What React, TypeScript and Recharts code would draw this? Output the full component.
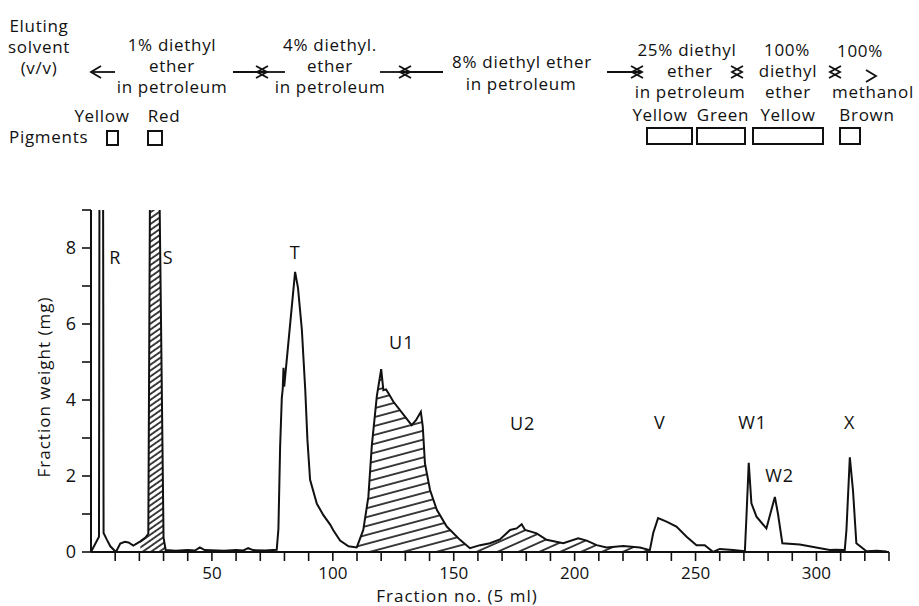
import { ComposedChart, Line, Area, XAxis, YAxis, ReferenceDot } from "recharts";

// elution profile (fraction no., mg)
const fraction = [
  0, 3.3, 3.5, 5.0, 5.2, 6.6, 8, 10.3, 12.1, 14, 15.5, 17.5, 20.4, 22.5, 23.7,
  24.4, 28.3, 30.0, 30.9, 35, 40, 43, 45, 47, 55, 60, 63, 65, 67, 72, 76.8,
  77.5, 78.2, 78.9, 79.3, 79.6, 79.9, 84.4, 85.6, 87.2, 88.6, 89.5, 90.6, 93.4,
  96.1, 98.9, 100.2, 103, 106.5, 109.9, 112.6, 114.7, 116.1, 118.2, 120, 120.9,
  122, 123, 125, 132.6, 134.4, 136.4, 137.2, 138.1, 140.2, 143, 147.1, 152.6,
  156.7, 160.9, 165, 169.1, 173.3, 176, 178.1, 179.5, 184.3, 188.4, 195.3,
  201.5, 205, 209.1, 213.2, 220.1, 227, 231.1, 232.5, 234.5, 238, 242.1, 246.3,
  250.4, 253.8, 257.3, 260, 265.5, 270.4, 271.1, 272, 273.1, 275.2, 279.3,
  282.8, 284.1, 285.9, 293.1, 305.5, 308, 311.7, 312.4, 313.8, 315.1, 316.5,
  320.7, 325, 329,
];
const weight = [
  0, 0.4, 9.6, 9.6, 0.5, 0.32, 0.15, 0, 0.22, 0.27, 0.25, 0.17, 0.28, 0.38, 0.48,
  9.6, 9.6, 0.38, 0.05, 0.03, 0.05, 0.04, 0.12, 0.05, 0.03, 0.05, 0.04, 0.1, 0.05,
  0.04, 0.06, 0.6, 2.75, 4.05, 4.3, 4.85, 4.35, 7.37, 6.95, 5.85, 4.27, 2.95,
  1.9, 1.27, 0.97, 0.72, 0.57, 0.3, 0.15, 0.12, 0.58, 1.45, 2.78, 4.1, 4.81,
  4.26, 4.28, 4.18, 3.96, 3.34, 3.47, 3.69, 3.3, 2.33, 1.63, 1.11, 0.67, 0.32,
  0.1, 0.18, 0.23, 0.33, 0.58, 0.62, 0.73, 0.58, 0.49, 0.32, 0.23, 0.36, 0.3,
  0.18, 0.12, 0.16, 0.12, 0.05, 0.5, 0.89, 0.8, 0.67, 0.4, 0.18, 0.18, 0, 0.08,
  0.05, 0.02, 1.0, 2.35, 1.28, 0.93, 0.62, 1.45, 1.0, 0.23, 0.2, 0.05, 0.06,
  0.05, 0.58, 2.49, 1.63, 0.23, 0.02, 0.03, 0.01,
];

// hatched fractions (from, to)
const hatchS = [20.4, 30.9];
const hatchU1 = [109.9, 156.7];
const hatchU2 = [156.7, 231.1];

const xTicks = [10, 20, 30, 40, 50, 60, 70, 80, 90, 100, 110, 120, 130, 140, 150, 160, 170, 180, 190, 200, 210, 220, 230, 240, 250, 260, 270, 280, 290, 300, 310, 320, 330];
const yTicks = [0, 1, 2, 3, 4, 5, 6, 7, 8, 9];

const peakNames = ["R", "S", "T", "U1", "U2", "V", "W1", "W2", "X"];
const peakFraction = [10, 31.9, 84.4, 128.5, 178.5, 235.2, 273.6, 284.8, 313.8];
const peakLabelAt = [7.74, 7.74, 7.87, 5.5, 3.39, 3.4, 3.4, 2.0, 3.4];

const solventTitle = ["Eluting", "solvent", "(v/v)"];
const solvents = [
  ["1% diethyl", "ether", "in petroleum"],
  ["4% diethyl.", "ether", "in petroleum"],
  ["8% diethyl ether", "in petroleum"],
  ["25% diethyl", "ether", "in petroleum"],
  ["100%", "diethyl", "ether"],
  ["100%", "methanol"],
];
const pigmentsLeft = ["Yellow", "Red"];
const pigmentsRight = ["Yellow", "Green", "Yellow", "Brown"];

const FONT = "'Open Sans', 'DejaVu Sans', sans-serif";
const INK = "#111";

const inside = (x: number, r: number[]) => x >= r[0] && x <= r[1];

const rows = fraction.map((x, i) => ({
  x,
  w: weight[i],
  s: inside(x, hatchS) ? weight[i] : null,
  u1: inside(x, hatchU1) ? weight[i] : null,
  u2: inside(x, hatchU2) ? weight[i] : null,
}));

// header layout: [x centre, baseline] per line
const solventPos = [
  [[172, 51], [172, 72], [172, 93]],
  [[330, 51], [330, 72], [330, 93]],
  [[522, 68], [521, 90]],
  [[687, 56], [690, 77], [690, 98]],
  [[787, 56], [788, 77], [788, 98]],
  [[860, 57], [873, 98]],
];
const leftPigPos = [102, 164];
const rightPigPos = [660, 723, 788, 867];
const leftBoxes = [[107, 131, 11, 14], [148, 131, 14, 14]];
const rightBoxes = [[647, 128, 45, 16], [697, 128, 48, 16], [753, 128, 70, 16], [840, 128, 20, 16]];

// two opposed arrows meeting at m; a / b = shaft ends (null = head only)
function Cross({ a, m, b, y }: { a: number | null; m: number; b: number | null; y: number }) {
  const h = 11;
  const s = 6;
  return (
    <g stroke={INK} strokeWidth={1.8} fill="none">
      {a !== null && <line x1={a} y1={y} x2={m + 5} y2={y} />}
      {b !== null && <line x1={m - 5} y1={y} x2={b} y2={y} />}
      <polyline points={`${m + 5 - h},${y - s} ${m + 5},${y} ${m + 5 - h},${y + s}`} />
      <polyline points={`${m - 5 + h},${y - s} ${m - 5},${y} ${m - 5 + h},${y + s}`} />
    </g>
  );
}

function Header() {
  return (
    <svg
      width={919}
      height={606}
      style={{ position: "absolute", left: 0, top: 0, pointerEvents: "none" }}
      fontFamily={FONT}
      fill={INK}
    >
      <g fontSize={17} letterSpacing={0.7} textAnchor="middle">
        {solventTitle.map((t, i) => (
          <text key={t} x={39} y={32 + i * 21}>{t}</text>
        ))}
        {solvents.map((lines, i) =>
          lines.map((t, j) => (
            <text key={`${i}-${j}`} x={solventPos[i][j][0]} y={solventPos[i][j][1]}>{t}</text>
          ))
        )}
        {pigmentsLeft.map((t, i) => (
          <text key={`l${i}`} x={leftPigPos[i]} y={122}>{t}</text>
        ))}
        {pigmentsRight.map((t, i) => (
          <text key={`r${i}`} x={rightPigPos[i]} y={121}>{t}</text>
        ))}
        <text x={9} y={143} textAnchor="start">Pigments</text>
      </g>
      <g stroke={INK} strokeWidth={2} fill="none">
        {[...leftBoxes, ...rightBoxes].map((b, i) => (
          <rect key={i} x={b[0]} y={b[1]} width={b[2]} height={b[3]} />
        ))}
      </g>
      {/* arrows between the solvent bands */}
      <g stroke={INK} strokeWidth={1.8} fill="none">
        <line x1={91} y1={72} x2={115} y2={72} />
        <polyline points="101,66 91,72 101,78" />
        <polyline points="866,70 876,76 866,82" />
      </g>
      <Cross a={233} m={262} b={285} y={72} />
      <Cross a={380} m={405} b={443} y={72} />
      <Cross a={607} m={637} b={null} y={72} />
      <Cross a={null} m={737} b={null} y={72} />
      <Cross a={null} m={835} b={null} y={72} />
      <text
        x={43}
        y={387}
        transform="rotate(-90 43 387)"
        textAnchor="middle"
        dominantBaseline="central"
        fontSize={17}
        letterSpacing={1}
      >
        Fraction weight (mg)
      </text>
      <text x={457} y={602} textAnchor="middle" fontSize={17} letterSpacing={1}>
        Fraction no. (5 ml)
      </text>
    </svg>
  );
}

export default function App() {
  return (
    <div style={{ position: "absolute", left: 0, top: 0, width: 919, height: 606, background: "#fff" }}>
      <ComposedChart
        width={919}
        height={606}
        data={rows}
        margin={{ top: 210, right: 30, bottom: 0, left: 0 }}
      >
        <defs>
          <pattern id="hatchS" width="10" height="4.8" patternUnits="userSpaceOnUse" patternTransform="rotate(-35)">
            <line x1="0" y1="1" x2="10" y2="1" stroke={INK} strokeWidth="1.6" />
          </pattern>
          <pattern id="hatchU1" width="10" height="8.6" patternUnits="userSpaceOnUse" patternTransform="rotate(-15)">
            <line x1="0" y1="1" x2="10" y2="1" stroke={INK} strokeWidth="1.6" />
          </pattern>
          <pattern id="hatchU2" width="10" height="8.5" patternUnits="userSpaceOnUse" patternTransform="rotate(-24)">
            <line x1="0" y1="1" x2="10" y2="1" stroke={INK} strokeWidth="1.6" />
          </pattern>
        </defs>
        <XAxis
          type="number"
          dataKey="x"
          domain={[0, 330]}
          ticks={xTicks}
          interval={0}
          allowDataOverflow
          height={54}
          tickSize={9}
          tickMargin={6}
          tickFormatter={(v: number) => (v % 50 === 0 ? String(v) : "")}
          axisLine={{ stroke: INK, strokeWidth: 2 }}
          tickLine={{ stroke: INK, strokeWidth: 1.6 }}
          tick={{ fill: INK, fontSize: 17, fontFamily: FONT }}
        />
        <YAxis
          type="number"
          domain={[0, 9]}
          ticks={yTicks}
          interval={0}
          allowDataOverflow
          width={91}
          tickSize={9}
          tickMargin={6}
          tickFormatter={(v: number) => (v % 2 === 0 ? String(v) : "")}
          axisLine={{ stroke: INK, strokeWidth: 2 }}
          tickLine={{ stroke: INK, strokeWidth: 1.6 }}
          tick={{ fill: INK, fontSize: 18, fontFamily: FONT }}
        />
        <Area dataKey="s" type="linear" stroke="none" fill="url(#hatchS)" fillOpacity={1} connectNulls={false} isAnimationActive={false} />
        <Area dataKey="u1" type="linear" stroke="none" fill="url(#hatchU1)" fillOpacity={1} connectNulls={false} isAnimationActive={false} />
        <Area dataKey="u2" type="linear" stroke="none" fill="url(#hatchU2)" fillOpacity={1} connectNulls={false} isAnimationActive={false} />
        <Line dataKey="w" type="linear" stroke={INK} strokeWidth={2} dot={false} isAnimationActive={false} />
        {peakNames.map((n, i) => (
          <ReferenceDot
            key={n}
            x={peakFraction[i]}
            y={peakLabelAt[i]}
            r={0}
            fill="none"
            stroke="none"
            label={{ value: n, position: "center", fill: INK, fontSize: 18, fontFamily: FONT, letterSpacing: 1 }}
          />
        ))}
      </ComposedChart>
      <Header />
    </div>
  );
}
